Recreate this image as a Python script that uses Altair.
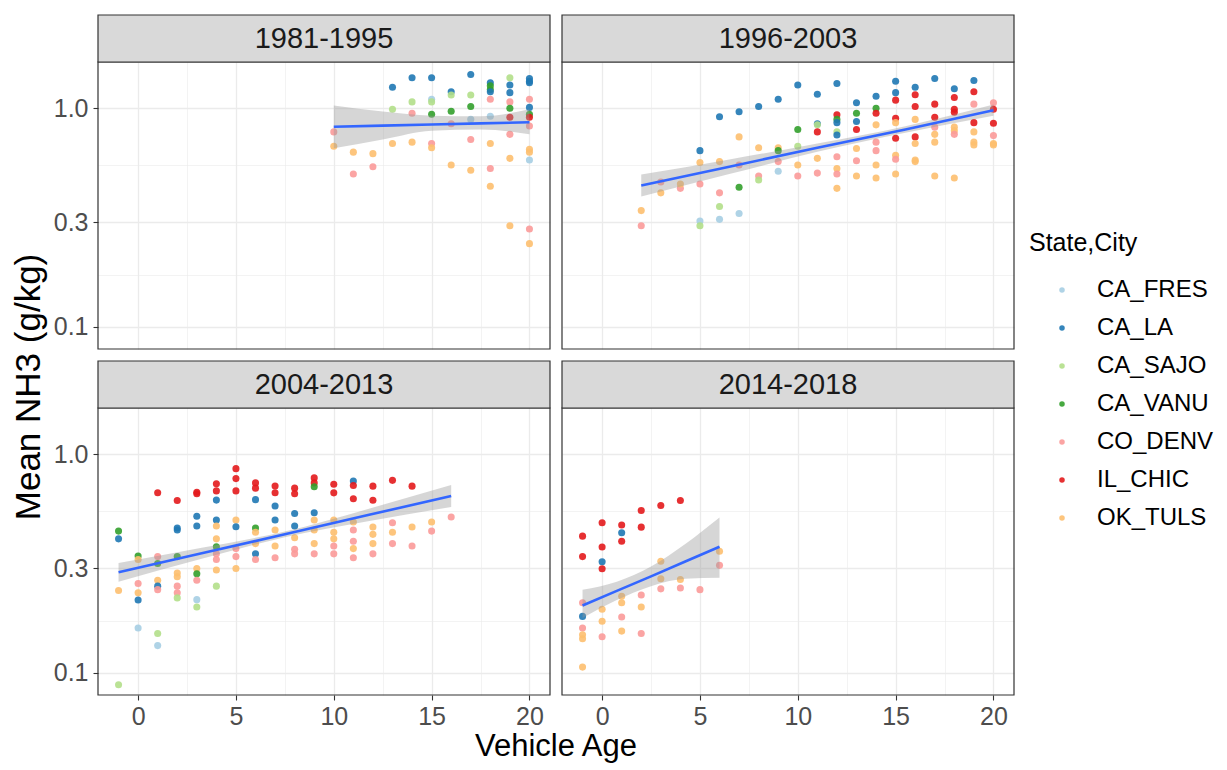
import altair as alt
import pandas as pd

FONT = "Liberation Sans"

CITIES = ["CA_FRES", "CA_LA", "CA_SAJO", "CA_VANU", "CO_DENV", "IL_CHIC", "OK_TULS"]
COLORS = ["#a6cee3", "#1f78b4", "#b2df8a", "#33a02c", "#fb9a99", "#e31a1c", "#fdbf6f"]
CODE = {"F": "CA_FRES", "L": "CA_LA", "S": "CA_SAJO", "V": "CA_VANU",
        "D": "CO_DENV", "C": "IL_CHIC", "T": "OK_TULS"}

PANEL_NAMES = ["1981-1995", "1996-2003", "2004-2013", "2014-2018"]
X_TITLE = "Vehicle Age"
Y_TITLE = "Mean NH3 (g/kg)"
LEGEND_TITLE = "State,City"

X_MAJOR = [0, 5, 10, 15, 20]
X_MINOR = [2.5, 7.5, 12.5, 17.5]
Y_MAJOR = [0.1, 0.3, 1.0]
Y_MINOR = [0.1732, 0.5477]
X_DOMAIN = [-2.05, 21.05]
Y_DOMAIN = [0.079, 1.63]

# (vehicle age, city code, mean NH3 g/kg)
PTS_1981_1995 = [
    (10, "D", 0.78), (10, "T", 0.67),
    (11, "T", 0.63), (11, "D", 0.50),
    (12, "T", 0.62), (12, "D", 0.54),
    (13, "L", 1.25), (13, "S", 0.99), (13, "T", 0.69),
    (14, "L", 1.38), (14, "S", 1.07), (14, "D", 0.95), (14, "T", 0.70),
    (15, "L", 1.38), (15, "F", 1.10), (15, "S", 1.07), (15, "V", 0.94), (15, "D", 0.69), (15, "T", 0.66),
    (16, "L", 1.19), (16, "S", 1.15), (16, "V", 0.97), (16, "D", 0.85), (16, "T", 0.55),
    (17, "L", 1.43), (17, "S", 1.15), (17, "V", 1.02), (17, "F", 0.89), (17, "D", 0.72), (17, "T", 0.52),
    (18, "L", 1.31), (18, "V", 1.27), (18, "V", 1.22), (18, "L", 1.19), (18, "D", 1.10), (18, "F", 0.92),
    (18, "T", 0.69), (18, "D", 0.53), (18, "T", 0.44),
    (19, "S", 1.38), (19, "L", 1.28), (19, "L", 1.18), (19, "D", 1.07), (19, "V", 1.00), (19, "C", 0.91),
    (19, "D", 0.76), (19, "T", 0.59), (19, "T", 0.29),
    (20, "L", 1.37), (20, "L", 1.33), (20, "L", 1.31), (20, "D", 1.10), (20, "L", 1.01), (20, "V", 0.94),
    (20, "C", 0.91), (20, "D", 0.83), (20, "T", 0.65), (20, "T", 0.63), (20, "F", 0.58), (20, "D", 0.28),
    (20, "T", 0.24),
]

PTS_1996_2003 = [
    (2, "T", 0.34), (2, "D", 0.29),
    (3, "T", 0.41), (3, "D", 0.46),
    (4, "D", 0.43), (4, "T", 0.45),
    (5, "L", 0.64), (5, "T", 0.565), (5, "D", 0.45), (5, "F", 0.305), (5, "S", 0.29),
    (6, "L", 0.915), (6, "T", 0.57), (6, "D", 0.41), (6, "S", 0.355), (6, "F", 0.31),
    (7, "L", 0.965), (7, "T", 0.74), (7, "D", 0.55), (7, "V", 0.435), (7, "F", 0.33),
    (8, "L", 1.02), (8, "T", 0.66), (8, "D", 0.49), (8, "S", 0.47),
    (9, "L", 1.10), (9, "T", 0.66), (9, "V", 0.64), (9, "D", 0.57), (9, "F", 0.515),
    (10, "L", 1.28), (10, "V", 0.80), (10, "S", 0.67), (10, "T", 0.55), (10, "D", 0.49),
    (11, "L", 1.16), (11, "L", 0.85), (11, "S", 0.84), (11, "C", 0.78), (11, "T", 0.59), (11, "D", 0.505),
    (12, "L", 1.30), (12, "C", 0.935), (12, "V", 0.89), (12, "L", 0.86), (12, "S", 0.78), (12, "L", 0.755),
    (12, "D", 0.60), (12, "T", 0.53), (12, "D", 0.50), (12, "T", 0.43),
    (13, "L", 1.06), (13, "V", 0.95), (13, "L", 0.87), (13, "C", 0.80), (13, "T", 0.655), (13, "D", 0.575),
    (13, "T", 0.49),
    (14, "L", 1.135), (14, "V", 1.00), (14, "C", 0.95), (14, "T", 0.84), (14, "D", 0.70), (14, "D", 0.64),
    (14, "T", 0.55), (14, "T", 0.48),
    (15, "L", 1.33), (15, "L", 1.18), (15, "C", 1.09), (15, "C", 0.90), (15, "T", 0.86), (15, "C", 0.73),
    (15, "T", 0.61), (15, "D", 0.585), (15, "T", 0.50),
    (16, "L", 1.25), (16, "C", 1.155), (16, "C", 1.02), (16, "T", 0.89), (16, "C", 0.74), (16, "T", 0.69),
    (16, "T", 0.58), (16, "T", 0.57),
    (17, "L", 1.37), (17, "C", 1.045), (17, "C", 0.91), (17, "D", 0.82), (17, "T", 0.76), (17, "T", 0.70),
    (17, "T", 0.49),
    (18, "L", 1.23), (18, "C", 1.12), (18, "C", 0.99), (18, "C", 0.96), (18, "T", 0.82), (18, "T", 0.79),
    (18, "D", 0.76), (18, "T", 0.48),
    (19, "L", 1.34), (19, "C", 1.19), (19, "D", 1.045), (19, "C", 0.86), (19, "T", 0.78), (19, "T", 0.70),
    (19, "T", 0.68),
    (20, "D", 1.06), (20, "C", 0.99), (20, "C", 0.855), (20, "D", 0.75), (20, "T", 0.69), (20, "T", 0.68),
]

PTS_2004_2013 = [
    (-1, "V", 0.445), (-1, "L", 0.41), (-1, "T", 0.238), (-1, "S", 0.088),
    (0, "V", 0.342), (0, "T", 0.33), (0, "D", 0.256), (0, "T", 0.232), (0, "L", 0.215), (0, "F", 0.16),
    (1, "C", 0.667), (1, "D", 0.34), (1, "V", 0.316), (1, "T", 0.265), (1, "L", 0.249), (1, "D", 0.24),
    (1, "S", 0.151), (1, "F", 0.133),
    (2, "C", 0.615), (2, "L", 0.46), (2, "L", 0.45), (2, "V", 0.34), (2, "T", 0.286), (2, "T", 0.275),
    (2, "D", 0.249), (2, "D", 0.232), (2, "S", 0.22),
    (3, "C", 0.67), (3, "C", 0.66), (3, "L", 0.52), (3, "L", 0.47), (3, "T", 0.30), (3, "V", 0.284),
    (3, "D", 0.265), (3, "F", 0.216), (3, "S", 0.20),
    (4, "C", 0.733), (4, "C", 0.68), (4, "L", 0.617), (4, "L", 0.50), (4, "T", 0.47), (4, "T", 0.41),
    (4, "V", 0.377), (4, "D", 0.35), (4, "D", 0.33), (4, "T", 0.295), (4, "S", 0.249),
    (5, "C", 0.86), (5, "C", 0.774), (5, "C", 0.68), (5, "T", 0.50), (5, "L", 0.466), (5, "D", 0.37),
    (5, "D", 0.34), (5, "T", 0.30),
    (6, "C", 0.74), (6, "C", 0.70), (6, "L", 0.62), (6, "V", 0.46), (6, "T", 0.44), (6, "T", 0.39),
    (6, "L", 0.35), (6, "D", 0.33),
    (7, "C", 0.716), (7, "C", 0.667), (7, "L", 0.58), (7, "L", 0.50), (7, "T", 0.45), (7, "T", 0.38),
    (7, "D", 0.336),
    (8, "C", 0.70), (8, "C", 0.66), (8, "L", 0.536), (8, "L", 0.47), (8, "T", 0.415), (8, "D", 0.367),
    (8, "D", 0.35),
    (9, "C", 0.78), (9, "C", 0.74), (9, "V", 0.71), (9, "L", 0.54), (9, "T", 0.50), (9, "T", 0.45),
    (9, "T", 0.39), (9, "D", 0.35),
    (10, "C", 0.73), (10, "C", 0.666), (10, "T", 0.50), (10, "T", 0.44), (10, "T", 0.41), (10, "D", 0.38),
    (10, "D", 0.35),
    (11, "L", 0.755), (11, "C", 0.72), (11, "C", 0.626), (11, "T", 0.49), (11, "D", 0.45), (11, "D", 0.40),
    (11, "T", 0.37), (11, "D", 0.336),
    (12, "C", 0.715), (12, "C", 0.616), (12, "T", 0.465), (12, "T", 0.43), (12, "T", 0.39), (12, "D", 0.35),
    (13, "C", 0.76), (13, "D", 0.486), (13, "T", 0.44), (13, "D", 0.39),
    (14, "C", 0.715), (14, "T", 0.465), (14, "D", 0.38),
    (15, "T", 0.49), (15, "D", 0.445),
    (16, "D", 0.516),
]

PTS_2014_2018 = [
    (-1, "C", 0.422), (-1, "C", 0.34), (-1, "D", 0.209), (-1, "L", 0.181), (-1, "D", 0.16),
    (-1, "T", 0.149), (-1, "T", 0.143), (-1, "T", 0.106),
    (0, "C", 0.486), (0, "C", 0.376), (0, "L", 0.322), (0, "C", 0.299), (0, "T", 0.195), (0, "T", 0.172),
    (0, "D", 0.146),
    (1, "C", 0.475), (1, "L", 0.437), (1, "C", 0.40), (1, "T", 0.224), (1, "T", 0.209), (1, "D", 0.18),
    (1, "T", 0.155),
    (2, "C", 0.553), (2, "C", 0.464), (2, "D", 0.227), (2, "T", 0.20), (2, "D", 0.151),
    (3, "C", 0.583), (3, "T", 0.324), (3, "T", 0.269), (3, "D", 0.242),
    (4, "C", 0.615), (4, "T", 0.267), (4, "D", 0.244),
    (5, "D", 0.24),
    (6, "T", 0.36), (6, "D", 0.31),
]

# linear-fit line and its confidence band
FIT_AGE = [[10, 12.5, 15, 17.5, 20], [2, 6.5, 11, 15.5, 20],
           [-1, 3.25, 7.5, 11.75, 16], [-1, 0.75, 2.5, 4.25, 6]]
FIT_MID = [[0.824, 0.833, 0.843, 0.853, 0.863], [0.443, 0.54, 0.66, 0.80, 0.98],
           [0.288, 0.352, 0.43, 0.527, 0.644], [0.203, 0.237, 0.276, 0.323, 0.377]]
FIT_LO = [[0.656, 0.72, 0.79, 0.80, 0.76], [0.395, 0.50, 0.632, 0.773, 0.925],
          [0.261, 0.332, 0.417, 0.494, 0.574], [0.178, 0.215, 0.249, 0.269, 0.272]]
FIT_HI = [[1.03, 0.966, 0.925, 0.92, 0.99], [0.497, 0.583, 0.69, 0.828, 1.04],
          [0.318, 0.373, 0.443, 0.562, 0.723], [0.24, 0.261, 0.306, 0.388, 0.513]]

ALL_PTS = [PTS_1981_1995, PTS_1996_2003, PTS_2004_2013, PTS_2014_2018]

rows = []
for name, pts in zip(PANEL_NAMES, ALL_PTS):
    for a, c, v in pts:
        rows.append({"panel": name, "age": a, "city": CODE[c], "nh3": v})
df = pd.DataFrame(rows)

W, H, SH = 452, 287, 47
TICK_FS = 25

x_minor_test = "datum.value % 5 != 0"
y_minor_test = f"indexof({Y_MINOR}, datum.value) >= 0"


def hidden_extent(show):
    return {} if show else {"minExtent": 0, "maxExtent": 0}


def xaxis(show):
    return alt.Axis(
        values=X_MAJOR + X_MINOR, labels=show, ticks=show, domain=False, title=None,
        grid=True, gridColor="#ebebeb",
        gridWidth={"condition": {"test": x_minor_test, "value": 0.6}, "value": 1.3},
        tickColor="#333333", tickSize=5, tickWidth=1.1,
        tickOpacity={"condition": {"test": x_minor_test, "value": 0}, "value": 1},
        labelExpr="datum.value % 5 == 0 ? datum.label : ''",
        labelFontSize=TICK_FS, labelColor="#4d4d4d", labelFont=FONT, labelPadding=4,
        labelOverlap=False, labelFlush=False, **hidden_extent(show))


def yaxis(show):
    return alt.Axis(
        values=Y_MAJOR + Y_MINOR, labels=show, ticks=show, domain=False, title=None,
        format=".1f", grid=True, gridColor="#ebebeb",
        gridWidth={"condition": {"test": y_minor_test, "value": 0.6}, "value": 1.3},
        tickColor="#333333", tickSize=5, tickWidth=1.1,
        tickOpacity={"condition": {"test": y_minor_test, "value": 0}, "value": 1},
        labelExpr=f"indexof({Y_MAJOR}, datum.value) >= 0 ? datum.label : ''",
        labelFontSize=TICK_FS, labelColor="#4d4d4d", labelFont=FONT, labelPadding=5,
        labelOverlap=False, labelFlush=False, **hidden_extent(show))


def panel(i, show_x, show_y):
    name = PANEL_NAMES[i]
    pts = df[df["panel"] == name]
    sm = pd.DataFrame({"age": FIT_AGE[i], "fit": FIT_MID[i], "lo": FIT_LO[i], "hi": FIT_HI[i]})
    xs = alt.Scale(domain=X_DOMAIN, nice=False, zero=False)
    ys = alt.Scale(type="log", domain=Y_DOMAIN, nice=False)
    xa, ya = xaxis(show_x), yaxis(show_y)
    points = alt.Chart(pts).mark_circle(size=50, opacity=0.9).encode(
        x=alt.X("age:Q", scale=xs, axis=xa),
        y=alt.Y("nh3:Q", scale=ys, axis=ya),
        color=alt.Color("city:N", scale=alt.Scale(domain=CITIES, range=COLORS),
                        legend=alt.Legend(title=LEGEND_TITLE)),
    )
    band = alt.Chart(sm).mark_area(color="#999999", opacity=0.4, interpolate="monotone").encode(
        x=alt.X("age:Q", scale=xs, axis=xa),
        y=alt.Y("lo:Q", scale=ys, axis=ya),
        y2="hi:Q",
    )
    line = alt.Chart(sm).mark_line(color="#3366FF", strokeWidth=2.6).encode(
        x=alt.X("age:Q", scale=xs, axis=xa),
        y=alt.Y("fit:Q", scale=ys, axis=ya),
    )
    one = pd.DataFrame({"p": [name]})
    border = alt.Chart(one).mark_rect(fill="transparent", stroke="#333333", strokeWidth=1.2).encode(
        x=alt.value(0), x2=alt.value(W), y=alt.value(0), y2=alt.value(H))
    strip_bg = alt.Chart(one).mark_rect(fill="#d9d9d9", stroke="#333333", strokeWidth=1.2).encode(
        x=alt.value(0), x2=alt.value(W), y=alt.value(-SH), y2=alt.value(0))
    strip_txt = alt.Chart(one).mark_text(fontSize=29, font=FONT, color="#1a1a1a").encode(
        text="p:N", x=alt.value(W / 2), y=alt.value(-SH / 2))
    return alt.layer(points, band, line, border, strip_bg, strip_txt).properties(width=W, height=H)


row1 = alt.hconcat(panel(0, False, True), panel(1, False, False), spacing=8)
row2 = alt.hconcat(panel(2, True, True), panel(3, True, False), spacing=8)
rows_grid = alt.vconcat(row1, row2, spacing=8)

xtitle = alt.Chart(pd.DataFrame({"t": [X_TITLE]})).mark_text(
    fontSize=31, font=FONT, color="black", baseline="top").encode(
    text="t:N", x=alt.value(458), y=alt.value(0)).properties(width=915, height=30)

grid = alt.vconcat(rows_grid, xtitle, spacing=0)

ytitle = alt.Chart(pd.DataFrame({"t": [Y_TITLE]})).mark_text(
    fontSize=35, font=FONT, color="black", angle=270).encode(
    text="t:N", x=alt.value(20), y=alt.value(325)).properties(width=34, height=640)

chart = alt.hconcat(ytitle, grid, spacing=4).properties(
    padding={"left": 0, "top": 5, "right": 0, "bottom": 0}
).configure(font=FONT).configure_view(
    stroke="transparent").configure_legend(
    orient="none", legendX=1020, legendY=169,
    titleFontSize=25, titleFont=FONT, titleFontWeight="normal", titleColor="black",
    titlePadding=22, labelFontSize=24, labelFont=FONT, labelColor="black",
    symbolSize=30, symbolType="circle", symbolOpacity=0.9, symbolStrokeWidth=0,
    rowPadding=14, symbolOffset=21, labelOffset=23)

chart.save("out.html", embed_options={"renderer": "svg", "actions": False})
